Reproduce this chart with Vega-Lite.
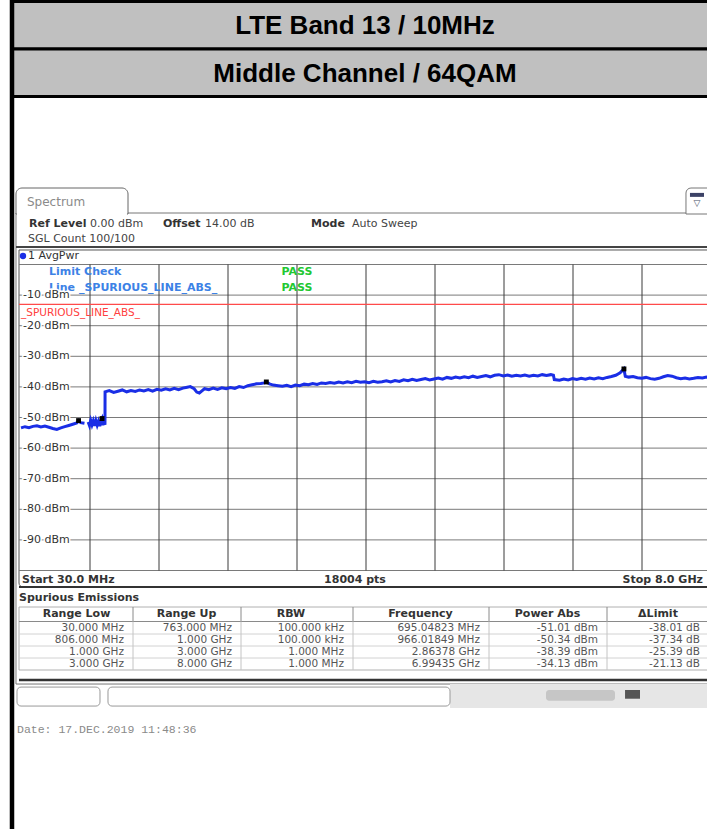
{
  "$schema": "https://vega.github.io/schema/vega-lite/v6.json",
  "width": 707,
  "height": 829,
  "padding": 0,
  "autosize": {"type": "none"},
  "background": "white",
  "config": {"view": {"stroke": null}, "axis": {"disable": true}, "text": {"font": "DejaVu Sans"}},
  "datasets": {
    "one": [{}],
    "titles": [{"title": "LTE Band 13 / 10MHz"}, {"title": "Middle Channel / 64QAM"}],
    "hgrid": [{"dbm": 0}, {"dbm": -10}, {"dbm": -20}, {"dbm": -30}, {"dbm": -40}, {"dbm": -50}, {"dbm": -60}, {"dbm": -70}, {"dbm": -80}, {"dbm": -90}, {"dbm": -100}],
    "ylabels": [{"dbm": -10, "label": "-10 dBm"}, {"dbm": -20, "label": "-20 dBm"}, {"dbm": -30, "label": "-30 dBm"}, {"dbm": -40, "label": "-40 dBm"}, {"dbm": -50, "label": "-50 dBm"}, {"dbm": -60, "label": "-60 dBm"}, {"dbm": -70, "label": "-70 dBm"}, {"dbm": -80, "label": "-80 dBm"}, {"dbm": -90, "label": "-90 dBm"}],
    "vgrid": [{"freq": 827}, {"freq": 1624}, {"freq": 2421}, {"freq": 3218}, {"freq": 4015}, {"freq": 4812}, {"freq": 5609}, {"freq": 6406}, {"freq": 7203}],
    "peaks": [{"freq": 695.04823, "dbm": -51.01}, {"freq": 966.01849, "dbm": -50.34}, {"freq": 2863.78, "dbm": -38.39}, {"freq": 6994.35, "dbm": -34.13}],
    "trace": [
      {"freq": 30, "dbm": -53.4, "seg": 1}, {"freq": 76, "dbm": -53.0, "seg": 1}, {"freq": 122, "dbm": -53.3, "seg": 1}, {"freq": 168, "dbm": -52.9, "seg": 1}, {"freq": 214, "dbm": -52.7, "seg": 1}, {"freq": 260, "dbm": -53.1, "seg": 1}, {"freq": 306, "dbm": -52.8, "seg": 1}, {"freq": 352, "dbm": -53.2, "seg": 1}, {"freq": 398, "dbm": -53.6, "seg": 1}, {"freq": 444, "dbm": -53.9, "seg": 1}, {"freq": 490, "dbm": -53.4, "seg": 1}, {"freq": 536, "dbm": -53.0, "seg": 1}, {"freq": 582, "dbm": -52.6, "seg": 1}, {"freq": 628, "dbm": -52.2, "seg": 1}, {"freq": 674, "dbm": -51.8, "seg": 1}, {"freq": 695, "dbm": -51.01, "seg": 1}, {"freq": 720, "dbm": -51.7, "seg": 1}, {"freq": 763, "dbm": -51.9, "seg": 1},
      {"freq": 806, "dbm": -51.5, "seg": 2}, {"freq": 820, "dbm": -52.6, "seg": 2}, {"freq": 835, "dbm": -50.9, "seg": 2}, {"freq": 850, "dbm": -52.4, "seg": 2}, {"freq": 865, "dbm": -51.1, "seg": 2}, {"freq": 880, "dbm": -52.7, "seg": 2}, {"freq": 895, "dbm": -51.0, "seg": 2}, {"freq": 910, "dbm": -52.5, "seg": 2}, {"freq": 925, "dbm": -51.2, "seg": 2}, {"freq": 940, "dbm": -52.8, "seg": 2}, {"freq": 955, "dbm": -51.0, "seg": 2}, {"freq": 966, "dbm": -50.34, "seg": 2}, {"freq": 978, "dbm": -52.5, "seg": 2}, {"freq": 990, "dbm": -51.3, "seg": 2}, {"freq": 1000, "dbm": -52.4, "seg": 2},
      {"freq": 1001, "dbm": -41.6, "seg": 2}, {"freq": 1050, "dbm": -41.2, "seg": 2}, {"freq": 1100, "dbm": -41.8, "seg": 2}, {"freq": 1150, "dbm": -41.4, "seg": 2}, {"freq": 1200, "dbm": -41.0, "seg": 2}, {"freq": 1250, "dbm": -41.6, "seg": 2}, {"freq": 1300, "dbm": -41.2, "seg": 2}, {"freq": 1350, "dbm": -41.5, "seg": 2}, {"freq": 1400, "dbm": -41.0, "seg": 2}, {"freq": 1450, "dbm": -41.3, "seg": 2}, {"freq": 1500, "dbm": -40.9, "seg": 2}, {"freq": 1550, "dbm": -41.4, "seg": 2}, {"freq": 1600, "dbm": -40.8, "seg": 2}, {"freq": 1650, "dbm": -41.1, "seg": 2}, {"freq": 1700, "dbm": -40.6, "seg": 2}, {"freq": 1750, "dbm": -41.0, "seg": 2}, {"freq": 1800, "dbm": -40.5, "seg": 2}, {"freq": 1850, "dbm": -40.9, "seg": 2}, {"freq": 1900, "dbm": -40.4, "seg": 2}, {"freq": 1950, "dbm": -40.1, "seg": 2}, {"freq": 1985, "dbm": -39.9, "seg": 2}, {"freq": 2030, "dbm": -40.6, "seg": 2}, {"freq": 2060, "dbm": -41.7, "seg": 2}, {"freq": 2090, "dbm": -42.0, "seg": 2}, {"freq": 2120, "dbm": -41.3, "seg": 2}, {"freq": 2150, "dbm": -40.6, "seg": 2}, {"freq": 2200, "dbm": -40.9, "seg": 2}, {"freq": 2250, "dbm": -40.4, "seg": 2}, {"freq": 2300, "dbm": -40.8, "seg": 2}, {"freq": 2350, "dbm": -40.3, "seg": 2}, {"freq": 2400, "dbm": -40.6, "seg": 2}, {"freq": 2450, "dbm": -40.2, "seg": 2}, {"freq": 2500, "dbm": -40.5, "seg": 2}, {"freq": 2550, "dbm": -39.9, "seg": 2}, {"freq": 2600, "dbm": -40.2, "seg": 2}, {"freq": 2650, "dbm": -39.6, "seg": 2}, {"freq": 2700, "dbm": -39.3, "seg": 2}, {"freq": 2750, "dbm": -39.0, "seg": 2}, {"freq": 2800, "dbm": -38.9, "seg": 2}, {"freq": 2840, "dbm": -38.7, "seg": 2}, {"freq": 2864, "dbm": -38.39, "seg": 2}, {"freq": 2900, "dbm": -39.0, "seg": 2}, {"freq": 2944, "dbm": -39.4, "seg": 2}, {"freq": 3000, "dbm": -39.6, "seg": 2},
      {"freq": 3050, "dbm": -39.8, "seg": 2}, {"freq": 3100, "dbm": -39.5, "seg": 2}, {"freq": 3150, "dbm": -39.9, "seg": 2}, {"freq": 3200, "dbm": -39.4, "seg": 2}, {"freq": 3250, "dbm": -39.6, "seg": 2}, {"freq": 3300, "dbm": -39.1, "seg": 2}, {"freq": 3350, "dbm": -39.3, "seg": 2}, {"freq": 3400, "dbm": -38.9, "seg": 2}, {"freq": 3450, "dbm": -39.2, "seg": 2}, {"freq": 3500, "dbm": -38.7, "seg": 2}, {"freq": 3550, "dbm": -38.9, "seg": 2}, {"freq": 3600, "dbm": -38.6, "seg": 2}, {"freq": 3650, "dbm": -38.8, "seg": 2}, {"freq": 3700, "dbm": -38.4, "seg": 2}, {"freq": 3750, "dbm": -38.7, "seg": 2}, {"freq": 3800, "dbm": -38.3, "seg": 2}, {"freq": 3850, "dbm": -38.6, "seg": 2}, {"freq": 3900, "dbm": -38.2, "seg": 2}, {"freq": 3950, "dbm": -38.5, "seg": 2}, {"freq": 4000, "dbm": -38.3, "seg": 2}, {"freq": 4050, "dbm": -38.6, "seg": 2}, {"freq": 4100, "dbm": -38.2, "seg": 2}, {"freq": 4150, "dbm": -38.5, "seg": 2}, {"freq": 4200, "dbm": -38.3, "seg": 2}, {"freq": 4250, "dbm": -38.0, "seg": 2}, {"freq": 4300, "dbm": -38.4, "seg": 2}, {"freq": 4350, "dbm": -37.9, "seg": 2}, {"freq": 4400, "dbm": -38.2, "seg": 2}, {"freq": 4450, "dbm": -37.7, "seg": 2}, {"freq": 4500, "dbm": -38.0, "seg": 2}, {"freq": 4550, "dbm": -37.5, "seg": 2}, {"freq": 4600, "dbm": -37.9, "seg": 2}, {"freq": 4650, "dbm": -37.6, "seg": 2}, {"freq": 4700, "dbm": -37.3, "seg": 2}, {"freq": 4750, "dbm": -37.7, "seg": 2}, {"freq": 4800, "dbm": -37.4, "seg": 2}, {"freq": 4850, "dbm": -37.1, "seg": 2}, {"freq": 4900, "dbm": -37.5, "seg": 2}, {"freq": 4950, "dbm": -36.9, "seg": 2}, {"freq": 5000, "dbm": -37.2, "seg": 2}, {"freq": 5050, "dbm": -36.8, "seg": 2}, {"freq": 5100, "dbm": -37.1, "seg": 2}, {"freq": 5150, "dbm": -36.7, "seg": 2}, {"freq": 5200, "dbm": -37.0, "seg": 2}, {"freq": 5250, "dbm": -36.5, "seg": 2}, {"freq": 5300, "dbm": -36.9, "seg": 2}, {"freq": 5350, "dbm": -36.6, "seg": 2}, {"freq": 5400, "dbm": -36.3, "seg": 2}, {"freq": 5450, "dbm": -36.7, "seg": 2}, {"freq": 5500, "dbm": -36.2, "seg": 2}, {"freq": 5550, "dbm": -36.0, "seg": 2}, {"freq": 5600, "dbm": -36.4, "seg": 2}, {"freq": 5650, "dbm": -36.1, "seg": 2}, {"freq": 5700, "dbm": -36.5, "seg": 2}, {"freq": 5750, "dbm": -36.2, "seg": 2}, {"freq": 5800, "dbm": -36.4, "seg": 2}, {"freq": 5850, "dbm": -36.1, "seg": 2}, {"freq": 5900, "dbm": -36.5, "seg": 2}, {"freq": 5950, "dbm": -36.2, "seg": 2}, {"freq": 6000, "dbm": -36.4, "seg": 2}, {"freq": 6050, "dbm": -36.0, "seg": 2}, {"freq": 6100, "dbm": -36.3, "seg": 2}, {"freq": 6150, "dbm": -36.0, "seg": 2}, {"freq": 6180, "dbm": -36.2, "seg": 2}, {"freq": 6190, "dbm": -37.6, "seg": 2}, {"freq": 6250, "dbm": -37.8, "seg": 2}, {"freq": 6300, "dbm": -37.4, "seg": 2}, {"freq": 6350, "dbm": -37.7, "seg": 2}, {"freq": 6400, "dbm": -37.3, "seg": 2}, {"freq": 6450, "dbm": -37.6, "seg": 2}, {"freq": 6500, "dbm": -37.2, "seg": 2}, {"freq": 6550, "dbm": -37.5, "seg": 2}, {"freq": 6600, "dbm": -37.1, "seg": 2}, {"freq": 6650, "dbm": -37.4, "seg": 2}, {"freq": 6700, "dbm": -37.0, "seg": 2}, {"freq": 6750, "dbm": -37.3, "seg": 2}, {"freq": 6800, "dbm": -36.9, "seg": 2}, {"freq": 6850, "dbm": -36.6, "seg": 2}, {"freq": 6900, "dbm": -36.2, "seg": 2}, {"freq": 6950, "dbm": -35.4, "seg": 2}, {"freq": 6994, "dbm": -34.13, "seg": 2}, {"freq": 7010, "dbm": -36.5, "seg": 2}, {"freq": 7050, "dbm": -36.8, "seg": 2}, {"freq": 7100, "dbm": -36.6, "seg": 2}, {"freq": 7150, "dbm": -37.0, "seg": 2}, {"freq": 7200, "dbm": -37.2, "seg": 2}, {"freq": 7250, "dbm": -36.9, "seg": 2}, {"freq": 7300, "dbm": -37.3, "seg": 2}, {"freq": 7350, "dbm": -37.5, "seg": 2}, {"freq": 7400, "dbm": -37.2, "seg": 2}, {"freq": 7450, "dbm": -36.7, "seg": 2}, {"freq": 7500, "dbm": -36.3, "seg": 2}, {"freq": 7550, "dbm": -36.5, "seg": 2}, {"freq": 7600, "dbm": -37.0, "seg": 2}, {"freq": 7650, "dbm": -37.3, "seg": 2}, {"freq": 7700, "dbm": -37.1, "seg": 2}, {"freq": 7750, "dbm": -37.4, "seg": 2}, {"freq": 7800, "dbm": -37.2, "seg": 2}, {"freq": 7850, "dbm": -36.9, "seg": 2}, {"freq": 7900, "dbm": -37.1, "seg": 2}, {"freq": 7950, "dbm": -36.8, "seg": 2}, {"freq": 8000, "dbm": -36.9, "seg": 2}
    ],
    "headers": [{"col": 1, "text": "Range Low"}, {"col": 2, "text": "Range Up"}, {"col": 3, "text": "RBW"}, {"col": 4, "text": "Frequency"}, {"col": 5, "text": "Power Abs"}, {"col": 6, "text": "ΔLimit"}],
    "cells": [
      {"row": 1, "col": 1, "text": "30.000 MHz"}, {"row": 1, "col": 2, "text": "763.000 MHz"}, {"row": 1, "col": 3, "text": "100.000 kHz"}, {"row": 1, "col": 4, "text": "695.04823 MHz"}, {"row": 1, "col": 5, "text": "-51.01 dBm"}, {"row": 1, "col": 6, "text": "-38.01 dB"},
      {"row": 2, "col": 1, "text": "806.000 MHz"}, {"row": 2, "col": 2, "text": "1.000 GHz"}, {"row": 2, "col": 3, "text": "100.000 kHz"}, {"row": 2, "col": 4, "text": "966.01849 MHz"}, {"row": 2, "col": 5, "text": "-50.34 dBm"}, {"row": 2, "col": 6, "text": "-37.34 dB"},
      {"row": 3, "col": 1, "text": "1.000 GHz"}, {"row": 3, "col": 2, "text": "3.000 GHz"}, {"row": 3, "col": 3, "text": "1.000 MHz"}, {"row": 3, "col": 4, "text": "2.86378 GHz"}, {"row": 3, "col": 5, "text": "-38.39 dBm"}, {"row": 3, "col": 6, "text": "-25.39 dB"},
      {"row": 4, "col": 1, "text": "3.000 GHz"}, {"row": 4, "col": 2, "text": "8.000 GHz"}, {"row": 4, "col": 3, "text": "1.000 MHz"}, {"row": 4, "col": 4, "text": "6.99435 GHz"}, {"row": 4, "col": 5, "text": "-34.13 dBm"}, {"row": 4, "col": 6, "text": "-21.13 dB"}
    ]
  },
  "layer": [
    {
      "data": {"name": "titles"},
      "encoding": {
        "y": {"field": "title", "type": "nominal", "axis": null, "scale": {"domain": ["LTE Band 13 / 10MHz", "Middle Channel / 64QAM"], "range": [1.5, 96.5], "paddingInner": 0, "paddingOuter": 0}}
      },
      "layer": [
        {"mark": {"type": "rect", "fill": "#c0c0c0", "stroke": "#000000", "strokeWidth": 3},
         "encoding": {"x": {"datum": 0, "type": "quantitative", "axis": null, "scale": {"domain": [0, 1], "range": [12, 718]}}, "x2": {"datum": 1}}},
        {"mark": {"type": "text", "font": "Liberation Sans", "fontWeight": "bold", "fontSize": 26, "color": "#000000", "align": "center", "baseline": "middle", "dy": 1},
         "encoding": {"x": {"datum": 0.5, "type": "quantitative", "axis": null, "scale": {"domain": [0, 1], "range": [12, 718]}}, "text": {"field": "title"}}}
      ]
    },
    {
      "layer": [
        {"data": {"name": "one"}, "mark": {"type": "rect", "fill": null, "stroke": "#777777", "strokeWidth": 1},
         "encoding": {"x": {"datum": -27.8, "type": "quantitative", "axis": null, "scale": {"domain": [30, 8000], "range": [21, 711], "nice": false, "zero": false}}, "x2": {"datum": 8104},
                      "y": {"datum": 16.83, "type": "quantitative", "axis": null, "scale": {"domain": [-100, 0], "range": [570.5, 264.5], "nice": false, "zero": false}}, "y2": {"datum": -137.1}}},
        {"data": {"name": "one"}, "mark": {"type": "rect", "fill": "#ffffff", "stroke": "#666666", "strokeWidth": 1, "cornerRadiusTopLeft": 6, "cornerRadiusTopRight": 6},
         "encoding": {"x": {"datum": -27.8, "type": "quantitative"}, "x2": {"datum": 1266}, "y": {"datum": 25.0, "type": "quantitative"}, "y2": {"datum": 16.5}}},
        {"data": {"name": "one"}, "mark": {"type": "rect", "fill": "#ffffff"},
         "encoding": {"x": {"datum": -16.2, "type": "quantitative"}, "x2": {"datum": 1254}, "y": {"datum": 17.3, "type": "quantitative"}, "y2": {"datum": 16.0}}},
        {"data": {"name": "one"}, "mark": {"type": "rect", "fill": "#ffffff", "stroke": "#777777", "strokeWidth": 1, "cornerRadiusTopLeft": 5},
         "encoding": {"x": {"datum": 7711, "type": "quantitative"}, "x2": {"datum": 8104}, "y": {"datum": 25.0, "type": "quantitative"}, "y2": {"datum": 16.5}}},
        {"data": {"name": "one"}, "mark": {"type": "rect", "fill": "#3c4266"},
         "encoding": {"x": {"datum": 7757, "type": "quantitative"}, "x2": {"datum": 7919}, "y": {"datum": 23.4, "type": "quantitative"}, "y2": {"datum": 22.1}}},
        {"data": {"name": "one"}, "mark": {"type": "text", "text": "▽", "fontSize": 9, "color": "#445066", "align": "center", "baseline": "middle"},
         "encoding": {"x": {"datum": 7838, "type": "quantitative"}, "y": {"datum": 20.1, "type": "quantitative"}}},
        {"data": {"name": "one"}, "mark": {"type": "text", "text": "Spectrum", "fontSize": 12, "color": "#8a8a8a", "align": "left", "baseline": "middle"},
         "encoding": {"x": {"datum": 99.3, "type": "quantitative"}, "y": {"datum": 20.42, "type": "quantitative"}}},
        {"data": {"name": "one"}, "mark": {"type": "text", "text": "Ref Level", "fontSize": 11, "fontWeight": "bold", "color": "#333333", "align": "left", "baseline": "middle"},
         "encoding": {"x": {"datum": 122.4, "type": "quantitative"}, "y": {"datum": 13.24, "type": "quantitative"}}},
        {"data": {"name": "one"}, "mark": {"type": "text", "text": "0.00 dBm", "fontSize": 11, "color": "#444444", "align": "left", "baseline": "middle"},
         "encoding": {"x": {"datum": 827, "type": "quantitative"}, "y": {"datum": 13.24, "type": "quantitative"}}},
        {"data": {"name": "one"}, "mark": {"type": "text", "text": "Offset", "fontSize": 11, "fontWeight": "bold", "color": "#333333", "align": "left", "baseline": "middle"},
         "encoding": {"x": {"datum": 1670.2, "type": "quantitative"}, "y": {"datum": 13.24, "type": "quantitative"}}},
        {"data": {"name": "one"}, "mark": {"type": "text", "text": "14.00 dB", "fontSize": 11, "color": "#444444", "align": "left", "baseline": "middle"},
         "encoding": {"x": {"datum": 2155.3, "type": "quantitative"}, "y": {"datum": 13.24, "type": "quantitative"}}},
        {"data": {"name": "one"}, "mark": {"type": "text", "text": "Mode", "fontSize": 11, "fontWeight": "bold", "color": "#333333", "align": "left", "baseline": "middle"},
         "encoding": {"x": {"datum": 3379.7, "type": "quantitative"}, "y": {"datum": 13.24, "type": "quantitative"}}},
        {"data": {"name": "one"}, "mark": {"type": "text", "text": "Auto Sweep", "fontSize": 11, "color": "#444444", "align": "left", "baseline": "middle"},
         "encoding": {"x": {"datum": 3853.3, "type": "quantitative"}, "y": {"datum": 13.24, "type": "quantitative"}}},
        {"data": {"name": "one"}, "mark": {"type": "text", "text": "SGL Count 100/100", "fontSize": 11, "color": "#444444", "align": "left", "baseline": "middle"},
         "encoding": {"x": {"datum": 110.9, "type": "quantitative"}, "y": {"datum": 8.17, "type": "quantitative"}}},
        {"data": {"name": "one"}, "mark": {"type": "rule", "stroke": "#444444", "strokeWidth": 2},
         "encoding": {"x": {"datum": -27.8, "type": "quantitative"}, "x2": {"datum": 8104}, "y": {"datum": 5.72, "type": "quantitative"}}},
        {"data": {"name": "one"}, "mark": {"type": "rect", "fill": null, "stroke": "#555555", "strokeWidth": 1, "cornerRadiusBottomLeft": 4},
         "encoding": {"x": {"datum": 6.9, "type": "quantitative"}, "x2": {"datum": 8012}, "y": {"datum": 4.74, "type": "quantitative"}, "y2": {"datum": -105.4}}},
        {"data": {"name": "hgrid"}, "mark": {"type": "rule", "stroke": "#7a7a7a", "strokeWidth": 1},
         "encoding": {"y": {"field": "dbm", "type": "quantitative"}, "x": {"datum": 6.9, "type": "quantitative"}, "x2": {"datum": 8012}}},
        {"data": {"name": "vgrid"}, "mark": {"type": "rule", "stroke": "#3a3a3a", "strokeWidth": 1},
         "encoding": {"x": {"field": "freq", "type": "quantitative"}, "y": {"datum": 0, "type": "quantitative"}, "y2": {"datum": -100}}},
        {"data": {"name": "one"}, "mark": {"type": "rule", "stroke": "#ff4a4a", "strokeWidth": 1.2},
         "encoding": {"y": {"datum": -13, "type": "quantitative"}, "x": {"datum": 6.9, "type": "quantitative"}, "x2": {"datum": 8012}}},
        {"data": {"name": "one"}, "mark": {"type": "point", "shape": "circle", "filled": true, "size": 40, "color": "#1a2ee6", "opacity": 1},
         "encoding": {"x": {"datum": 53.1, "type": "quantitative"}, "y": {"datum": 2.78, "type": "quantitative"}}},
        {"data": {"name": "one"}, "mark": {"type": "text", "text": "1 AvgPwr", "fontSize": 11, "color": "#333333", "align": "left", "baseline": "middle"},
         "encoding": {"x": {"datum": 110.9, "type": "quantitative"}, "y": {"datum": 2.78, "type": "quantitative"}}},
        {"data": {"name": "one"}, "mark": {"type": "text", "text": "Limit Check", "fontSize": 11, "fontWeight": "bold", "color": "#3c82e6", "align": "left", "baseline": "middle"},
         "encoding": {"x": {"datum": 353.4, "type": "quantitative"}, "y": {"datum": -2.45, "type": "quantitative"}}},
        {"data": {"name": "one"}, "mark": {"type": "text", "text": "Line _SPURIOUS_LINE_ABS_", "fontSize": 11, "fontWeight": "bold", "color": "#3c82e6", "align": "left", "baseline": "middle"},
         "encoding": {"x": {"datum": 353.4, "type": "quantitative"}, "y": {"datum": -7.68, "type": "quantitative"}}},
        {"data": {"name": "one"}, "mark": {"type": "text", "text": "PASS", "fontSize": 11, "fontWeight": "bold", "color": "#22c832", "align": "left", "baseline": "middle"},
         "encoding": {"x": {"datum": 3038.5, "type": "quantitative"}, "y": {"datum": -2.45, "type": "quantitative"}}},
        {"data": {"name": "one"}, "mark": {"type": "text", "text": "PASS", "fontSize": 11, "fontWeight": "bold", "color": "#22c832", "align": "left", "baseline": "middle"},
         "encoding": {"x": {"datum": 3038.5, "type": "quantitative"}, "y": {"datum": -7.68, "type": "quantitative"}}},
        {"data": {"name": "ylabels"}, "mark": {"type": "text", "fontSize": 11, "color": "#ffffff", "stroke": "#ffffff", "strokeWidth": 3, "align": "left", "baseline": "middle"},
         "encoding": {"x": {"datum": 53.1, "type": "quantitative"}, "y": {"field": "dbm", "type": "quantitative"}, "text": {"field": "label"}}},
        {"data": {"name": "ylabels"}, "mark": {"type": "text", "fontSize": 11, "color": "#333333", "align": "left", "baseline": "middle"},
         "encoding": {"x": {"datum": 53.1, "type": "quantitative"}, "y": {"field": "dbm", "type": "quantitative"}, "text": {"field": "label"}}},
        {"data": {"name": "one"}, "mark": {"type": "text", "text": "_SPURIOUS_LINE_ABS_", "fontSize": 10.5, "color": "#ff4040", "align": "left", "baseline": "middle"},
         "encoding": {"x": {"datum": 30, "type": "quantitative"}, "y": {"datum": -15.69, "type": "quantitative"}}},
        {"data": {"name": "trace"}, "mark": {"type": "line", "color": "#1a2ee6", "strokeWidth": 3, "strokeJoin": "miter"},
         "encoding": {"x": {"field": "freq", "type": "quantitative"}, "y": {"field": "dbm", "type": "quantitative"}, "detail": {"field": "seg", "type": "nominal"}, "order": {"field": "freq", "type": "quantitative"}}},
        {"data": {"name": "peaks"}, "mark": {"type": "square", "filled": true, "size": 24, "color": "#000000", "opacity": 1},
         "encoding": {"x": {"field": "freq", "type": "quantitative"}, "y": {"field": "dbm", "type": "quantitative"}}},
        {"data": {"name": "one"}, "mark": {"type": "text", "text": "Start 30.0 MHz", "fontSize": 11, "fontWeight": "bold", "color": "#333333", "align": "left", "baseline": "middle"},
         "encoding": {"x": {"datum": 41.6, "type": "quantitative"}, "y": {"datum": -103.1, "type": "quantitative"}}},
        {"data": {"name": "one"}, "mark": {"type": "text", "text": "18004 pts", "fontSize": 11, "fontWeight": "bold", "color": "#333333", "align": "center", "baseline": "middle"},
         "encoding": {"x": {"datum": 3888, "type": "quantitative"}, "y": {"datum": -103.1, "type": "quantitative"}}},
        {"data": {"name": "one"}, "mark": {"type": "text", "text": "Stop 8.0 GHz", "fontSize": 11, "fontWeight": "bold", "color": "#333333", "align": "right", "baseline": "middle"},
         "encoding": {"x": {"datum": 7907.6, "type": "quantitative"}, "y": {"datum": -103.1, "type": "quantitative"}}},
        {"data": {"name": "one"}, "mark": {"type": "rule", "stroke": "#333333", "strokeWidth": 2},
         "encoding": {"x": {"datum": 6.9, "type": "quantitative"}, "x2": {"datum": 8104}, "y": {"datum": -105.4, "type": "quantitative"}}},
        {"data": {"name": "one"}, "mark": {"type": "text", "text": "Spurious Emissions", "fontSize": 11, "fontWeight": "bold", "color": "#333333", "align": "left", "baseline": "middle"},
         "encoding": {"x": {"datum": 6.9, "type": "quantitative"}, "y": {"datum": -109.0, "type": "quantitative"}}},
        {"data": {"name": "one"}, "mark": {"type": "rule", "stroke": "#333333", "strokeWidth": 2.5},
         "encoding": {"x": {"datum": 6.9, "type": "quantitative"}, "x2": {"datum": 8104}, "y": {"datum": -135.8, "type": "quantitative"}}},
        {"data": {"name": "one"}, "mark": {"type": "rect", "fill": "#e6e6e6"},
         "encoding": {"x": {"datum": 4985.3, "type": "quantitative"}, "x2": {"datum": 8104}, "y": {"datum": -137.1, "type": "quantitative"}, "y2": {"datum": -144.9}}},
        {"data": {"name": "one"}, "mark": {"type": "rect", "fill": "#ffffff", "stroke": "#999999", "strokeWidth": 1, "cornerRadius": 4},
         "encoding": {"x": {"datum": -16.2, "type": "quantitative"}, "x2": {"datum": 942.5}, "y": {"datum": -138.1, "type": "quantitative"}, "y2": {"datum": -144.3}}},
        {"data": {"name": "one"}, "mark": {"type": "rect", "fill": "#ffffff", "stroke": "#999999", "strokeWidth": 1, "cornerRadius": 4},
         "encoding": {"x": {"datum": 1034.9, "type": "quantitative"}, "x2": {"datum": 4985.3}, "y": {"datum": -138.1, "type": "quantitative"}, "y2": {"datum": -144.3}}},
        {"data": {"name": "one"}, "mark": {"type": "rect", "fill": "#c6c6c6", "cornerRadius": 3},
         "encoding": {"x": {"datum": 6094, "type": "quantitative"}, "x2": {"datum": 6891}, "y": {"datum": -139.05, "type": "quantitative"}, "y2": {"datum": -142.6}}},
        {"data": {"name": "one"}, "mark": {"type": "rect", "fill": "#555555"},
         "encoding": {"x": {"datum": 7007, "type": "quantitative"}, "x2": {"datum": 7180}, "y": {"datum": -139.05, "type": "quantitative"}, "y2": {"datum": -141.9}}},
        {"data": {"name": "one"}, "mark": {"type": "text", "text": "Date: 17.DEC.2019  11:48:36", "font": "Liberation Mono", "fontSize": 11.5, "color": "#8a8a8a", "align": "left", "baseline": "middle"},
         "encoding": {"x": {"datum": -16.2, "type": "quantitative"}, "y": {"datum": -152.1, "type": "quantitative"}}},
        {"data": {"name": "one"}, "mark": {"type": "rule", "stroke": "#000000", "strokeWidth": 4.5},
         "encoding": {"x": {"datum": -74, "type": "quantitative"}, "y": {"datum": 86.4, "type": "quantitative"}, "y2": {"datum": -184.5}}}
      ]
    },
    {
      "layer": [
        {
          "layer": [
            {"data": {"name": "one"}, "mark": {"type": "rect", "fill": null, "stroke": "#b0b0b0", "strokeWidth": 1},
             "encoding": {"x": {"datum": 0, "type": "quantitative", "axis": null, "scale": {"domain": [0, 1, 2, 3, 4, 5, 6], "range": [19, 133, 241, 353, 489, 607, 709], "nice": false, "zero": false}}, "x2": {"datum": 6},
                          "y": {"datum": 0, "type": "quantitative", "axis": null, "scale": {"domain": [0, 1, 2, 3, 4, 5], "range": [607, 621.5, 634, 646, 658, 670], "nice": false, "zero": false}}, "y2": {"datum": 5}}},
            {"data": {"name": "one"}, "mark": {"type": "rule", "stroke": "#8a8a8a", "strokeWidth": 1},
             "encoding": {"x": {"datum": 0, "type": "quantitative"}, "x2": {"datum": 6}, "y": {"datum": 1, "type": "quantitative"}}},
            {"data": {"name": "cells"}, "transform": [{"filter": "datum.col == 1 && datum.row >= 2"}], "mark": {"type": "rule", "stroke": "#d2d2d2", "strokeWidth": 1},
             "encoding": {"x": {"datum": 0, "type": "quantitative"}, "x2": {"datum": 6}, "y": {"field": "row", "type": "quantitative"}}},
            {"data": {"name": "cells"}, "transform": [{"filter": "datum.row == 1 && datum.col <= 5"}], "mark": {"type": "rule", "stroke": "#8a8a8a", "strokeWidth": 1},
             "encoding": {"x": {"field": "col", "type": "quantitative"}, "y": {"datum": 0, "type": "quantitative"}, "y2": {"datum": 1}}},
            {"data": {"name": "cells"}, "transform": [{"filter": "datum.row == 1 && datum.col <= 5"}], "mark": {"type": "rule", "stroke": "#c4c4c4", "strokeWidth": 1},
             "encoding": {"x": {"field": "col", "type": "quantitative"}, "y": {"datum": 1, "type": "quantitative"}, "y2": {"datum": 5}}},
            {"data": {"name": "cells"}, "mark": {"type": "text", "fontSize": 10.5, "color": "#555555", "align": "right", "baseline": "middle", "dx": -9, "dy": 6},
             "encoding": {"x": {"field": "col", "type": "quantitative"}, "y": {"field": "row", "type": "quantitative"}, "text": {"field": "text"}}}
          ]
        },
        {
          "data": {"name": "headers"},
          "mark": {"type": "text", "fontSize": 11, "fontWeight": "bold", "color": "#333333", "align": "center", "baseline": "middle", "dy": 7},
          "encoding": {
            "x": {"field": "col", "type": "quantitative", "axis": null, "scale": {"domain": [1, 2, 3, 4, 5, 6], "range": [76.5, 186.5, 291, 420.5, 547.5, 658], "nice": false, "zero": false}},
            "y": {"datum": 0, "type": "quantitative", "axis": null, "scale": {"domain": [0, 1, 2, 3, 4, 5], "range": [607, 621.5, 634, 646, 658, 670], "nice": false, "zero": false}},
            "text": {"field": "text"}
          }
        }
      ],
      "resolve": {"scale": {"x": "independent"}}
    }
  ],
  "resolve": {"scale": {"x": "independent", "y": "independent"}}
}
